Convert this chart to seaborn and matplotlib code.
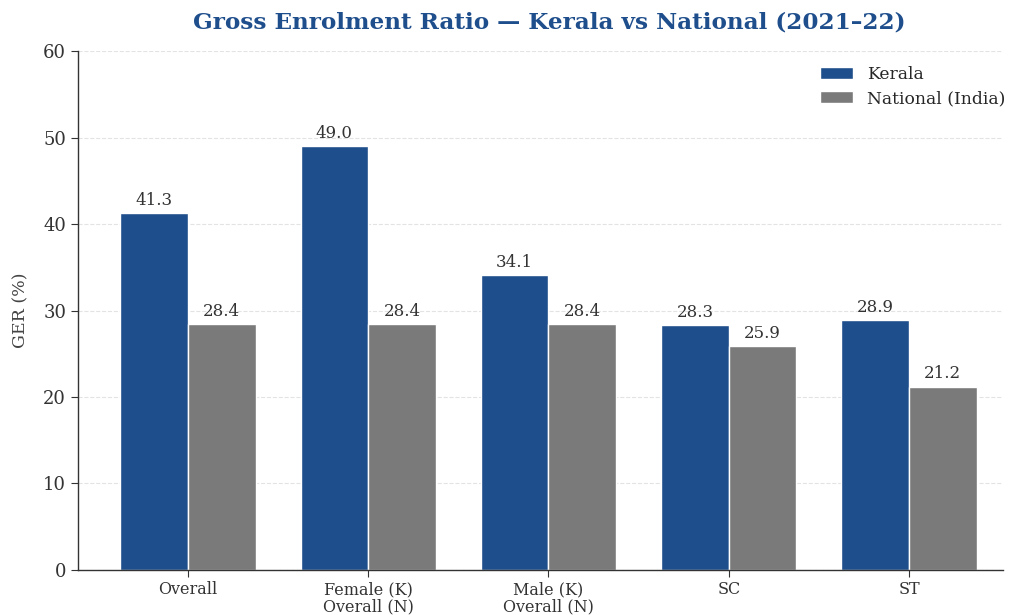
import matplotlib
matplotlib.use("Agg")
import matplotlib.pyplot as plt
import seaborn as sns
import pandas as pd

categories = ["Overall", "Female (K)\nOverall (N)", "Male (K)\nOverall (N)", "SC", "ST"]
kerala = [41.3, 49.0, 34.1, 28.3, 28.9]
national = [28.4, 28.4, 28.4, 25.9, 21.2]
series = ["Kerala", "National (India)"]
colors = ["#1f4e8c", "#7a7a7a"]

df = pd.DataFrame({
    "cat": categories * 2,
    "val": kerala + national,
    "series": [series[0]] * len(categories) + [series[1]] * len(categories),
})

sns.set_style("white")
plt.rcParams["font.family"] = ["DejaVu Serif"]

fig = plt.figure(figsize=(10.15, 6.15), dpi=100)
ax = fig.add_axes([0.0768, 0.0732, 0.9112, 0.8438])

sns.barplot(data=df, x="cat", y="val", hue="series", palette=colors,
            saturation=1, width=0.75, edgecolor="white", linewidth=1,
            ax=ax, errorbar=None)

for cont in ax.containers:
    ax.bar_label(cont, fmt="%.1f", padding=3, fontsize=12, color="#333333")

ax.set_ylim(0, 60)
ax.set_xlim(-0.61, 4.52)
ax.set_yticks(range(0, 61, 10))
ax.yaxis.grid(True, linestyle="--", color="#e3e3e3", linewidth=0.8)
ax.set_axisbelow(True)
for s in ["top", "right"]:
    ax.spines[s].set_visible(False)
for s in ["left", "bottom"]:
    ax.spines[s].set_color("#333333")
    ax.spines[s].set_linewidth(1.0)
ax.tick_params(axis="y", labelsize=13, colors="#333333", length=5, left=True)
ax.tick_params(axis="x", labelsize=11.5, colors="#333333", length=5, bottom=True, pad=3)
for lab in ax.get_xticklabels():
    lab.set_linespacing(1.05)
ax.set_xlabel("")
ax.set_ylabel("GER (%)", fontsize=12.5, color="#444444", labelpad=10)
ax.set_title("Gross Enrolment Ratio — Kerala vs National (2021–22)",
             fontsize=16.7, fontweight="bold", color="#1f4e8c", pad=16, x=0.51)
ax.legend(title=None, frameon=False, loc="upper right", fontsize=12.3,
          bbox_to_anchor=(1.019, 1.0), handlelength=1.95, labelspacing=0.4)

fig.savefig("out.png", dpi=100)
